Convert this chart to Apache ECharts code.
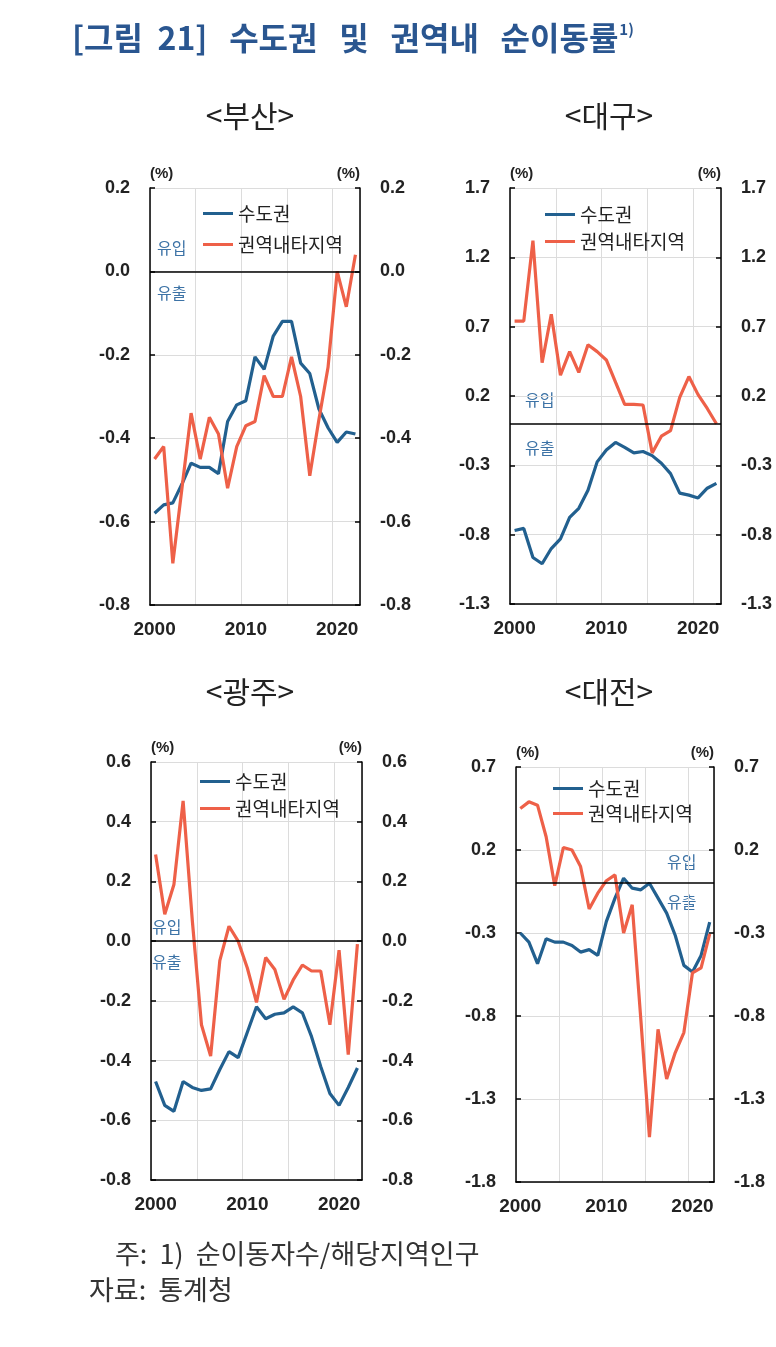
<!DOCTYPE html>
<html>
<head>
<meta charset="utf-8">
<script src="https://cdn.jsdelivr.net/npm/echarts@6/dist/echarts.min.js"></script>
<style>
html, body { margin: 0; padding: 0; background: #fff; }
#chart { width: 776px; height: 1347px; }
</style>
</head>
<body>
<div id="chart"></div>
<script>
// 연도 (2000~2022)
var years = ['2000', '2001', '2002', '2003', '2004', '2005', '2006', '2007', '2008', '2009', '2010',
    '2011', '2012', '2013', '2014', '2015', '2016', '2017', '2018', '2019', '2020', '2021', '2022'];

var seriesNames = ['수도권', '권역내타지역'];

// 부산
var busanCapital = [-0.58, -0.56, -0.555, -0.51, -0.46, -0.47, -0.47, -0.485, -0.36, -0.32, -0.31, -0.205,
    -0.235, -0.155, -0.12, -0.12, -0.22, -0.245, -0.33, -0.375, -0.41, -0.385, -0.39];
var busanRegion = [-0.45, -0.42, -0.70, -0.52, -0.34, -0.45, -0.35, -0.39, -0.52, -0.42, -0.37, -0.36,
    -0.25, -0.30, -0.30, -0.205, -0.30, -0.49, -0.355, -0.23, 0.0, -0.085, 0.04];

// 대구
var daeguCapital = [-0.77, -0.755, -0.965, -1.01, -0.9, -0.83, -0.675, -0.61, -0.48, -0.275, -0.19, -0.135,
    -0.17, -0.21, -0.2, -0.23, -0.285, -0.36, -0.5, -0.515, -0.535, -0.465, -0.43];
var daeguRegion = [0.74, 0.74, 1.32, 0.44, 0.79, 0.35, 0.52, 0.37, 0.57, 0.52, 0.46, 0.30,
    0.14, 0.14, 0.135, -0.21, -0.09, -0.05, 0.19, 0.34, 0.21, 0.11, 0.0];

// 광주
var gwangjuCapital = [-0.47, -0.55, -0.57, -0.47, -0.49, -0.50, -0.495, -0.43, -0.37, -0.39, -0.305, -0.22,
    -0.26, -0.245, -0.24, -0.22, -0.24, -0.32, -0.42, -0.51, -0.55, -0.49, -0.425];
var gwangjuRegion = [0.29, 0.09, 0.19, 0.47, 0.07, -0.28, -0.385, -0.065, 0.05, 0.0, -0.09, -0.205,
    -0.055, -0.095, -0.195, -0.13, -0.08, -0.10, -0.10, -0.28, -0.03, -0.38, -0.01];

// 대전
var daejeonCapital = [-0.30, -0.355, -0.485, -0.335, -0.355, -0.355, -0.375, -0.415, -0.40, -0.435, -0.23, -0.09,
    0.03, -0.03, -0.04, 0.0, -0.09, -0.18, -0.315, -0.495, -0.535, -0.435, -0.235];
var daejeonRegion = [0.45, 0.49, 0.47, 0.28, -0.015, 0.215, 0.20, 0.10, -0.155, -0.06, 0.015, 0.05,
    -0.30, -0.13, -0.82, -1.53, -0.88, -1.18, -1.02, -0.90, -0.54, -0.51, -0.305];

var BLUE = '#22608f';
var RED = '#ee6048';
var LABEL_FONT = '"Liberation Sans", Arial, sans-serif';
var KR_FONT = '"Noto Sans CJK KR", sans-serif';

var panels = [
    { name: '<부산>', grid: { left: 150, top: 188, width: 210, height: 417 },
      min: -0.8, max: 0.2, interval: 0.2, capital: busanCapital, region: busanRegion,
      legend: { left: 198, top: 199, gap: 12 } },
    { name: '<대구>', grid: { left: 510, top: 188, width: 211, height: 416 },
      min: -1.3, max: 1.7, interval: 0.5, capital: daeguCapital, region: daeguRegion,
      legend: { left: 540, top: 200, gap: 8 } },
    { name: '<광주>', grid: { left: 151, top: 762, width: 211, height: 418 },
      min: -0.8, max: 0.6, interval: 0.2, capital: gwangjuCapital, region: gwangjuRegion,
      legend: { left: 195, top: 767, gap: 8 } },
    { name: '<대전>', grid: { left: 516, top: 767, width: 198, height: 415 },
      min: -1.8, max: 0.7, interval: 0.5, capital: daejeonCapital, region: daejeonRegion,
      legend: { left: 548, top: 774, gap: 6 } }
];

var axisLineStyle = { color: '#000', width: 1.5 };
var gridColor = '#dcdcdc';

function yAxisFor(i, p, side) {
    return {
        gridIndex: i,
        type: 'value',
        position: side,
        min: p.min,
        max: p.max,
        interval: p.interval,
        name: '(%)',
        nameLocation: 'end',
        nameGap: 7,
        nameTextStyle: {
            align: side === 'left' ? 'left' : 'right',
            fontSize: 15, fontWeight: 'bold', color: '#222', fontFamily: LABEL_FONT
        },
        axisLine: { show: true, lineStyle: axisLineStyle },
        axisTick: { show: true, inside: true, length: 5, lineStyle: axisLineStyle },
        axisLabel: {
            margin: 20, fontSize: 18, fontWeight: 'bold', color: '#222', fontFamily: LABEL_FONT,
            formatter: function (v) { return v.toFixed(1); }
        },
        splitLine: { show: side === 'left', lineStyle: { color: gridColor, width: 1 } }
    };
}

var grids = [], xAxes = [], yAxes = [], series = [], legends = [];

panels.forEach(function (p, i) {
    grids.push(Object.assign({ containLabel: false }, p.grid));
    xAxes.push({
        gridIndex: i,
        type: 'category',
        data: years,
        boundaryGap: true,
        axisLine: { onZero: false, lineStyle: axisLineStyle },
        axisTick: { show: false },
        axisLabel: {
            interval: function (idx) { return idx % 10 === 0; },
            margin: 15, fontSize: 19, fontWeight: 'bold', color: '#222', fontFamily: LABEL_FONT
        },
        splitLine: {
            show: true,
            interval: function (idx) { return idx % 5 === 0; },
            lineStyle: { color: gridColor, width: 1 }
        }
    });
    yAxes.push(yAxisFor(i, p, 'left'));
    yAxes.push(yAxisFor(i, p, 'right'));
    series.push({
        name: seriesNames[0],
        type: 'line',
        xAxisIndex: i,
        yAxisIndex: i * 2,
        data: p.capital,
        symbol: 'none',
        lineStyle: { width: 3.2, color: BLUE },
        itemStyle: { color: BLUE },
        markLine: {
            silent: true,
            symbol: 'none',
            label: { show: false },
            lineStyle: { color: '#000', width: 1.5, type: 'solid' },
            data: [{ yAxis: 0 }]
        }
    });
    series.push({
        name: seriesNames[1],
        type: 'line',
        xAxisIndex: i,
        yAxisIndex: i * 2,
        data: p.region,
        symbol: 'none',
        lineStyle: { width: 3.2, color: RED },
        itemStyle: { color: RED }
    });
    legends.push({
        left: p.legend.left,
        top: p.legend.top,
        orient: 'vertical',
        icon: 'rect',
        itemWidth: 30,
        itemHeight: 3,
        itemGap: p.legend.gap,
        selectedMode: false,
        data: seriesNames,
        textStyle: { fontSize: 19, color: '#222', fontFamily: KR_FONT }
    });
});

function txt(text, x, y, font, fill, align) {
    return {
        type: 'text', x: x, y: y, silent: true,
        style: { text: text, font: font, fill: fill, align: align || 'left', verticalAlign: 'middle' }
    };
}

var inOutColor = '#3d73a6';
var inOutFont = '16px ' + KR_FONT;

var graphics = [
    {
        type: 'text', x: 72, y: 38, silent: true,
        style: {
            text: '{m|[그림  21]   수도권   및   권역내   순이동률}{s|1)}',
            verticalAlign: 'middle',
            rich: {
                m: { fontSize: 32, fontFamily: KR_FONT, fontWeight: 'bold', fill: '#2a5690' },
                s: { fontSize: 15, fontFamily: KR_FONT, fontWeight: 'bold', fill: '#2a5690', verticalAlign: 'top', padding: [0, 0, 0, 1] }
            }
        }
    },
    txt('<부산>', 250, 116, '30px ' + KR_FONT, '#222', 'center'),
    txt('<대구>', 609, 116, '30px ' + KR_FONT, '#222', 'center'),
    txt('<광주>', 250, 692, '30px ' + KR_FONT, '#222', 'center'),
    txt('<대전>', 609, 692, '30px ' + KR_FONT, '#222', 'center'),
    // 유입 / 유출
    txt('유입', 157, 248, inOutFont, inOutColor),
    txt('유출', 157, 293, inOutFont, inOutColor),
    txt('유입', 525, 400, inOutFont, inOutColor),
    txt('유출', 525, 448, inOutFont, inOutColor),
    txt('유입', 152, 927, inOutFont, inOutColor),
    txt('유출', 152, 962, inOutFont, inOutColor),
    txt('유입', 667, 862, inOutFont, inOutColor),
    txt('유출', 667, 902, inOutFont, inOutColor),
    // 주석
    txt('주:  1)  순이동자수/해당지역인구', 115, 1254, '27px ' + KR_FONT, '#333'),
    txt('자료:  통계청', 89, 1290, '27px ' + KR_FONT, '#333')
];

var chart = echarts.init(document.getElementById('chart'), null, { renderer: 'canvas' });
chart.setOption({
    animation: false,
    backgroundColor: '#fff',
    grid: grids,
    xAxis: xAxes,
    yAxis: yAxes,
    legend: legends,
    series: series,
    graphic: graphics
});
</script>
</body>
</html>
